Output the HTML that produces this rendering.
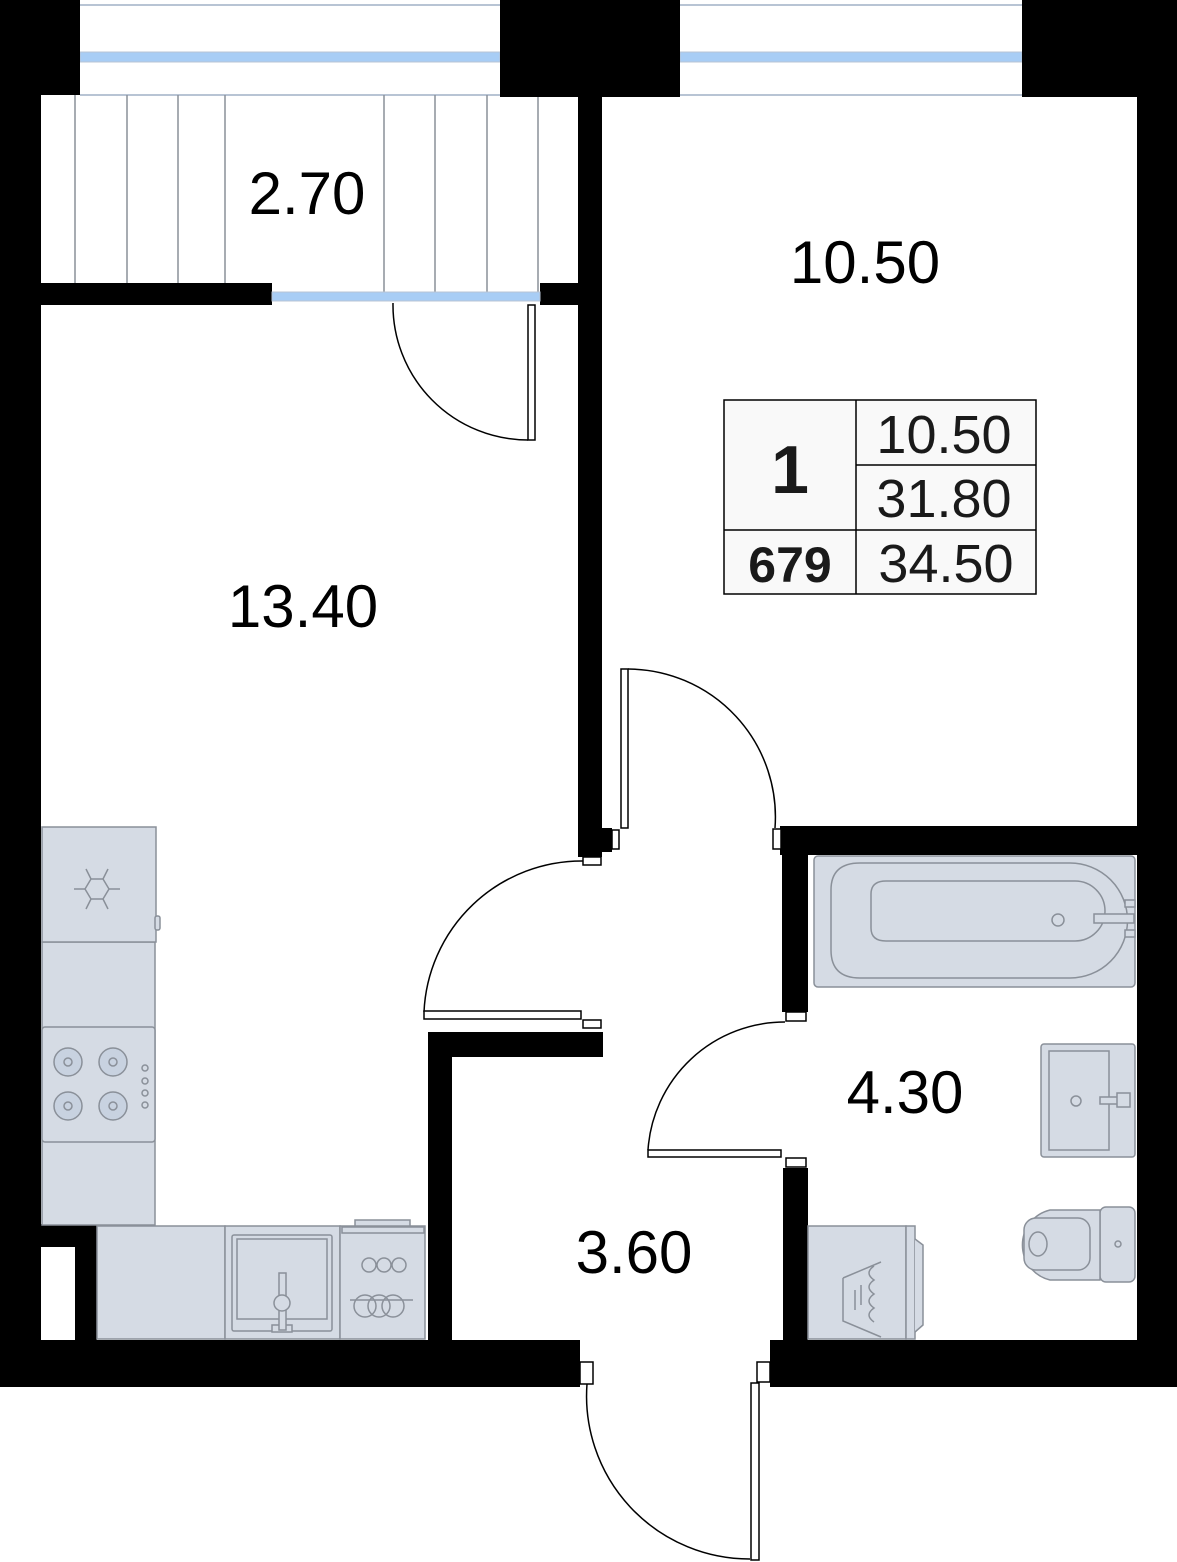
<!DOCTYPE html>
<html><head><meta charset="utf-8"><style>
html,body{margin:0;padding:0;background:#fff;}
svg{display:block;}
text{font-family:"Liberation Sans",sans-serif;}
</style></head><body>
<svg width="1177" height="1562" viewBox="0 0 1177 1562" xmlns="http://www.w3.org/2000/svg">
<line x1="80" y1="5" x2="1022" y2="5" stroke="#b8c4d4" stroke-width="2"/>
<rect x="80" y="52" width="420" height="10" fill="#a8cdf5" stroke="#b8c4d4"/>
<rect x="680" y="52" width="342" height="10" fill="#a8cdf5" stroke="#b8c4d4"/>
<line x1="80" y1="95" x2="1022" y2="95" stroke="#b8c4d4" stroke-width="2"/>
<g stroke="#8a9099" stroke-width="1.5">
<line x1="75" y1="95" x2="75" y2="283"/><line x1="127" y1="95" x2="127" y2="283"/>
<line x1="178" y1="95" x2="178" y2="283"/><line x1="225" y1="95" x2="225" y2="283"/>
<line x1="384" y1="95" x2="384" y2="293"/><line x1="435" y1="95" x2="435" y2="293"/>
<line x1="487" y1="95" x2="487" y2="293"/><line x1="538" y1="95" x2="538" y2="293"/>
</g>
<g fill="#000">
<rect x="0" y="0" width="80" height="95"/>
<rect x="0" y="95" width="41" height="1292"/>
<rect x="500" y="0" width="180" height="97"/>
<rect x="1022" y="0" width="155" height="97"/>
<rect x="41" y="283" width="231" height="22"/>
<rect x="540" y="283" width="40" height="22"/>
<rect x="578" y="97" width="24" height="760"/>
<rect x="602" y="828" width="10" height="24"/>
<rect x="1137" y="97" width="40" height="1290"/>
<rect x="780" y="826" width="357" height="29"/>
<rect x="782" y="826" width="26" height="186"/>
<rect x="783" y="1168" width="25" height="172"/>
<rect x="0" y="1340" width="580" height="47"/>
<rect x="770" y="1340" width="407" height="47"/>
<rect x="428" y="1032" width="24" height="308"/>
<rect x="428" y="1032" width="175" height="25"/>
<rect x="41" y="1224" width="56" height="23"/>
<rect x="75" y="1224" width="22" height="116"/>
</g>
<rect x="41" y="1247" width="34" height="93" fill="#fff"/>
<rect x="272" y="292" width="268" height="9" fill="#a8cdf5" stroke="#b8c4d4"/>
<g fill="#d5dbe4" stroke="#8a9099" stroke-width="1.5">
<rect x="42" y="942" width="113" height="283"/>
<rect x="42" y="827" width="114" height="115"/>
<rect x="155" y="916" width="5" height="14" rx="2"/>
<rect x="42" y="1027" width="113" height="115" rx="3"/>
<rect x="97" y="1226" width="128" height="113"/>
<rect x="225" y="1226" width="115" height="113"/>
<rect x="232" y="1235" width="100" height="96" rx="2"/>
<rect x="237" y="1239" width="90" height="80"/>
<rect x="340" y="1226" width="85" height="113"/>
<rect x="342" y="1227" width="82" height="6"/>
<rect x="355" y="1220" width="55" height="6"/>
<rect x="272" y="1325" width="20" height="7"/>
<rect x="279" y="1273" width="7" height="57"/>
<circle cx="282" cy="1303" r="8"/>
</g>
<g fill="none" stroke="#8a9099" stroke-width="1.5">
<circle cx="68" cy="1062" r="14" fill="#c8d2e0"/><circle cx="68" cy="1062" r="4"/>
<circle cx="113" cy="1062" r="14" fill="#c8d2e0"/><circle cx="113" cy="1062" r="4"/>
<circle cx="68" cy="1106" r="14" fill="#c8d2e0"/><circle cx="68" cy="1106" r="4"/>
<circle cx="113" cy="1106" r="14" fill="#c8d2e0"/><circle cx="113" cy="1106" r="4"/>
<circle cx="145" cy="1068" r="3"/><circle cx="145" cy="1081" r="3"/><circle cx="145" cy="1093" r="3"/><circle cx="145" cy="1105" r="3"/>
<path d="M91 879 L103 879 L109 889 L103 899 L91 899 L85 889 Z"/>
<path d="M91 879 L86 869 M103 879 L108 869 M109 889 L120 889 M103 899 L108 909 M91 899 L86 909 M85 889 L74 889"/>
<circle cx="369" cy="1265" r="7"/><circle cx="384" cy="1265" r="7"/><circle cx="399" cy="1265" r="7"/>
<circle cx="365" cy="1306" r="11"/><circle cx="379" cy="1306" r="11"/><circle cx="393" cy="1306" r="11"/>
<line x1="350" y1="1300" x2="413" y2="1300"/>
</g>
<g fill="#d5dbe4" stroke="#8a9099" stroke-width="1.5">
<rect x="814" y="856" width="321" height="131" rx="4"/>
<path d="M860 863 H1070 A57 57 0 0 1 1070 978 H860 Q831 978 831 950 V890 Q831 863 860 863 Z"/>
<path d="M886 881 H1075 A30 30 0 0 1 1075 941 H886 Q871 941 871 928 V894 Q871 881 886 881 Z"/>
<circle cx="1058" cy="920" r="6"/>
<rect x="1094" y="914" width="40" height="9"/>
<rect x="1125" y="900" width="10" height="7"/><rect x="1125" y="930" width="10" height="7"/>
<rect x="1041" y="1044" width="94" height="113" rx="3"/>
<rect x="1049" y="1051" width="60" height="99"/>
<circle cx="1076" cy="1101" r="5"/>
<rect x="1100" y="1097" width="22" height="7"/><rect x="1117" y="1093" width="13" height="14"/>
<rect x="1100" y="1207" width="35" height="75" rx="6"/>
<path d="M1100 1210 H1050 A36 36 0 0 0 1050 1280 H1100 Z"/>
<rect x="1024" y="1218" width="66" height="52" rx="12"/>
<ellipse cx="1038" cy="1244" rx="9" ry="12"/>
<circle cx="1118" cy="1244" r="3"/>
<rect x="808" y="1226" width="98" height="113"/>
<rect x="906" y="1226" width="9" height="113"/>
<path d="M915 1239 L923 1245 V1325 L915 1332"/>
</g>
<path d="M843 1278 L881 1262 M843 1278 V1321 L881 1337 M855 1290 V1310 M861 1285 V1305" fill="none" stroke="#8a9099" stroke-width="1.5"/>
<path d="M874 1266 q-10 7 0 14 q-10 7 0 14 q-10 7 0 14 q-10 7 0 14" fill="none" stroke="#8a9099" stroke-width="1.5"/>
<g fill="#fff" stroke="#000" stroke-width="1.5">
<path d="M393 303 A135 135 0 0 0 528 440" fill="none"/>
<rect x="528" y="305" width="7" height="135"/>
<rect x="621" y="669" width="7" height="159"/>
<path d="M628 669 A148 148 0 0 1 775 828" fill="none"/>
<rect x="773" y="829" width="8" height="20"/>
<rect x="612" y="830" width="7" height="19"/>
<rect x="583" y="857" width="18" height="8"/>
<path d="M583 861 A158 158 0 0 0 424 1012" fill="none"/>
<rect x="424" y="1011" width="157" height="8"/>
<rect x="583" y="1020" width="18" height="8"/>
<path d="M785 1022 A137 137 0 0 0 648 1150" fill="none"/>
<rect x="786" y="1012" width="20" height="9"/>
<rect x="648" y="1150" width="133" height="7"/>
<rect x="786" y="1158" width="20" height="9"/>
<rect x="580" y="1362" width="13" height="22"/>
<path d="M587 1384 A163 163 0 0 0 750 1559" fill="none"/>
<rect x="751" y="1383" width="8" height="177"/>
<rect x="757" y="1362" width="13" height="20"/>
</g>
<g stroke="#000" stroke-width="1.5" fill="#f9f9f9">
<rect x="724" y="400" width="312" height="194"/>
<line x1="856" y1="400" x2="856" y2="594"/>
<line x1="856" y1="465" x2="1036" y2="465"/>
<line x1="724" y1="530" x2="1036" y2="530"/>
</g>
<g text-anchor="middle" fill="#1a1a1a">
<text x="790" y="493" font-size="68" font-weight="bold">1</text>
<text x="944" y="453" font-size="54">10.50</text>
<text x="944" y="517" font-size="54">31.80</text>
<text x="790" y="582" font-size="50" font-weight="bold">679</text>
<text x="946" y="582" font-size="54">34.50</text>
</g>
<g text-anchor="middle" fill="#000" font-size="60">
<text x="307" y="214">2.70</text>
<text x="865" y="283">10.50</text>
<text x="303" y="627">13.40</text>
<text x="905" y="1113">4.30</text>
<text x="634" y="1273">3.60</text>
</g>
</svg>
</body></html>
